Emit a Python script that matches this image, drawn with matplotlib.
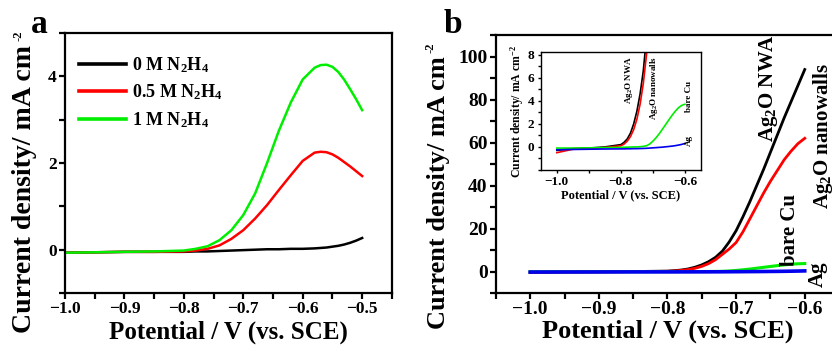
import matplotlib
matplotlib.use("Agg")
import matplotlib.pyplot as plt
from matplotlib.ticker import MultipleLocator

plt.rcParams['font.family'] = ['Liberation Serif', 'DejaVu Serif']
plt.rcParams['font.weight'] = 'bold'
plt.rcParams['mathtext.fontset'] = 'custom'
plt.rcParams['mathtext.rm'] = 'Liberation Serif:bold'
plt.rcParams['mathtext.it'] = 'Liberation Serif:italic:bold'
plt.rcParams['mathtext.bf'] = 'Liberation Serif:bold'
plt.rcParams['mathtext.default'] = 'rm'

# ---------------- Panel a data ----------------
pot_a = [-1.0, -0.95, -0.9, -0.85, -0.8, -0.78, -0.76, -0.74, -0.72, -0.70, -0.68, -0.66,
         -0.64, -0.62, -0.60, -0.58, -0.57, -0.56, -0.55, -0.54, -0.53, -0.52, -0.51, -0.50]
j_0M = [-0.07, -0.06, -0.05, -0.05, -0.05, -0.04, -0.04, -0.03, -0.02, -0.01, 0.0, 0.01,
        0.01, 0.02, 0.02, 0.03, 0.04, 0.05, 0.07, 0.09, 0.12, 0.16, 0.21, 0.27]
j_05M = [-0.07, -0.06, -0.05, -0.05, -0.04, -0.02, 0.02, 0.10, 0.25, 0.45, 0.72, 1.03,
         1.38, 1.72, 2.05, 2.24, 2.26, 2.25, 2.20, 2.12, 2.02, 1.92, 1.81, 1.70]
j_1M = [-0.07, -0.06, -0.05, -0.04, -0.02, 0.02, 0.08, 0.22, 0.45, 0.80, 1.30, 2.00,
        2.75, 3.40, 3.93, 4.20, 4.26, 4.27, 4.22, 4.10, 3.92, 3.70, 3.47, 3.22]
labels_a = ['0 M N$_2$H$_4$', '0.5 M N$_2$H$_4$', '1 M N$_2$H$_4$']

# ---------------- Panel b data ----------------
pot_b = [-1.0, -0.95, -0.9, -0.85, -0.8, -0.79, -0.78, -0.77, -0.76, -0.75, -0.74, -0.73,
         -0.72, -0.71, -0.70, -0.69, -0.68, -0.67, -0.66, -0.65, -0.64, -0.63, -0.62, -0.61, -0.60]
j_nwa = [-0.3, -0.15, -0.1, 0.0, 0.2, 0.4, 0.7, 1.2, 2.0, 3.1, 4.6, 6.6,
         9.5, 13.8, 19.0, 25.5, 32.5, 40.0, 47.5, 55.5, 63.5, 71.5, 79.0, 86.5, 94.0]
j_walls = [-0.5, -0.2, -0.15, -0.05, 0.1, 0.25, 0.5, 0.9, 1.5, 2.4, 3.7, 5.5,
           8.0, 10.5, 13.5, 18.5, 24.5, 30.5, 36.5, 42.0, 47.0, 52.0, 56.0, 59.5, 62.0]
j_cu = [-0.1, -0.1, -0.08, -0.06, -0.04, -0.03, -0.02, -0.01, 0.0, 0.0, 0.02, 0.05,
        0.10, 0.25, 0.50, 0.80, 1.15, 1.55, 1.95, 2.35, 2.75, 3.10, 3.40, 3.60, 3.70]
j_ag = [-0.25, -0.22, -0.2, -0.18, -0.17, -0.17, -0.16, -0.16, -0.15, -0.15, -0.14, -0.13,
        -0.12, -0.10, -0.08, -0.06, -0.04, -0.02, 0.01, 0.04, 0.07, 0.11, 0.16, 0.22, 0.30]

W, H = 832, 348
fig = plt.figure(figsize=(W / 100, H / 100), dpi=100)


def px(x, y):
    return x / W, 1 - y / H


def style(ax, lw=1.6, ticklen=4, labelsize=11):
    for s in ax.spines.values():
        s.set_linewidth(lw)
    ax.tick_params(which='both', direction='out', top=False, right=False,
                   width=lw, labelsize=labelsize, pad=2)
    ax.tick_params(which='major', length=ticklen)
    ax.tick_params(which='minor', length=ticklen)


ylab = 'Current density/ mA cm'
ysup = '-2'
xlab = 'Potential / V (vs. SCE)'


def big_ylabel(xc, ytop, xs, ys, size, supsize):
    fig.text(*px(xc, ytop), ylab, rotation=90, fontsize=size, fontweight='bold',
             ha='center', va='top')
    fig.text(*px(xs, ys), ysup, rotation=90, fontsize=supsize, fontweight='bold',
             ha='center', va='center')


# ---------------- Panel a ----------------
axa = fig.add_axes([0.0781, 0.158, 0.3929, 0.747])
axa.plot(pot_a, j_0M, color='black', lw=1.8, label=labels_a[0])
axa.plot(pot_a, j_05M, color='#ff0000', lw=1.8, label=labels_a[1])
axa.plot(pot_a, j_1M, color='#00ee00', lw=1.8, label=labels_a[2])
axa.set_xlim(-1.0, -0.45)
axa.set_ylim(-1, 5)
axa.set_xticks([-1.0, -0.9, -0.8, -0.7, -0.6, -0.5])
axa.xaxis.set_minor_locator(MultipleLocator(0.05))
axa.set_yticks([0, 2, 4])
axa.yaxis.set_minor_locator(MultipleLocator(1))
style(axa, labelsize=12.5)
axa.set_xlabel(xlab, fontsize=18, fontweight='bold', labelpad=2)
big_ylabel(25, 45, 18, 36, 20, 9)
leg = axa.legend(loc='upper left', bbox_to_anchor=(0.0, 0.97), frameon=False,
                 fontsize=13, handlelength=2.6, handletextpad=0.3, labelspacing=0.42,
                 borderaxespad=0.4)
for ln in leg.get_lines():
    ln.set_linewidth(2.6)
fig.text(0.037, 0.905, 'a', fontsize=24, fontweight='bold')

# ---------------- Panel b ----------------
axb = fig.add_axes([0.596, 0.158, 0.4125, 0.741])
axb.plot(pot_b, j_nwa, color='black', lw=2.0)
axb.plot(pot_b, j_walls, color='#ff0000', lw=2.0)
axb.plot(pot_b, j_cu, color='#00ee00', lw=2.2)
axb.plot(pot_b, j_ag, color='#0000ee', lw=2.6)
axb.set_xlim(-1.05, -0.55)
axb.set_ylim(-10, 110)
axb.set_xticks([-1.0, -0.9, -0.8, -0.7, -0.6])
axb.xaxis.set_minor_locator(MultipleLocator(0.05))
axb.set_yticks([0, 20, 40, 60, 80, 100])
axb.yaxis.set_minor_locator(MultipleLocator(10))
style(axb, labelsize=14)
axb.set_xlabel(xlab, fontsize=19, fontweight='bold', labelpad=1)
big_ylabel(438, 56, 430, 48, 19, 9)
fig.text(0.533, 0.905, 'b', fontsize=24, fontweight='bold')

tkw = dict(rotation=90, fontsize=15, fontweight='bold', ha='center', va='center')
fig.text(*px(768, 88), 'Ag$_2$O NWA', **tkw)
fig.text(*px(823, 136), 'Ag$_2$O nanowalls', **tkw)
fig.text(*px(790, 230), 'bare Cu', **tkw)
fig.text(*px(818, 274), 'Ag', **tkw)

# ---------------- Inset ----------------
axi = fig.add_axes([0.650, 0.5115, 0.1925, 0.3382])
axi.plot(pot_b, j_nwa, color='black', lw=1.2)
axi.plot(pot_b, j_walls, color='#ff0000', lw=1.2)
axi.plot(pot_b, j_cu, color='#00ee00', lw=1.2)
axi.plot(pot_b, j_ag, color='#0000ee', lw=1.2)
axi.set_xlim(-1.05, -0.55)
axi.set_ylim(-2, 8.2)
axi.set_xticks([-1.0, -0.8, -0.6])
axi.xaxis.set_minor_locator(MultipleLocator(0.1))
axi.set_yticks([0, 2, 4, 6, 8])
axi.yaxis.set_minor_locator(MultipleLocator(1))
style(axi, lw=1.0, ticklen=2.5, labelsize=9.5)
axi.set_xlabel(xlab, fontsize=9, fontweight='bold', labelpad=1)
axi.set_ylabel('Current density/ mA cm$^{-2}$', fontsize=8.5, fontweight='bold', labelpad=1)

ikw = dict(rotation=90, fontsize=6.5, fontweight='bold', ha='center', va='center')
fig.text(*px(629, 80), 'Ag$_2$O NWA', **ikw)
fig.text(*px(654, 88), 'Ag$_2$O nanowalls', **ikw)
fig.text(*px(689, 97), 'bare Cu', **ikw)
fig.text(*px(689, 141), 'Ag', **ikw)

fig.savefig('out.png', dpi=100)
